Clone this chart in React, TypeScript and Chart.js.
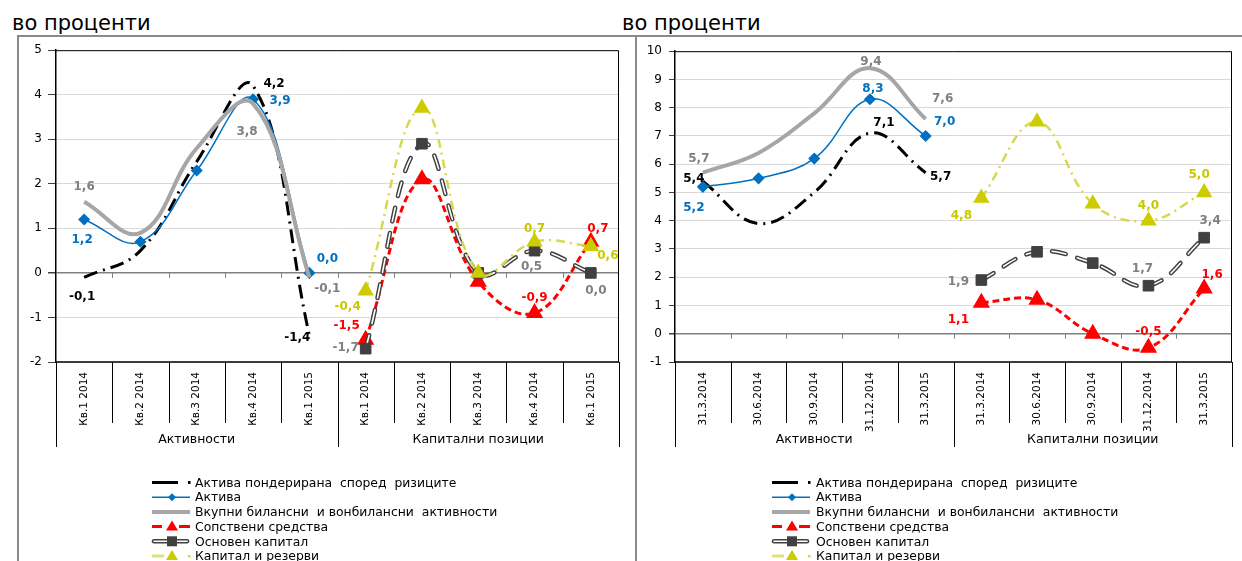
import React, { useEffect, useRef } from "react";
import { Chart, registerables } from "chart.js";

Chart.register(...registerables);

const FONT = '"DejaVu Sans", Verdana, sans-serif';

// ---------- text ----------
const titleText = "во проценти";
const seriesNames = [
  "Актива пондерирана  според  ризиците",
  "Актива",
  "Вкупни билансни  и вонбилансни  активности",
  "Сопствени средства",
  "Основен капитал",
  "Капитал и резерви",
];
const groupLabels = ["Активности", "Капитални позиции"];
const quarterLabels = ["Кв.1 2014", "Кв.2 2014", "Кв.3 2014", "Кв.4 2014", "Кв.1 2015"];
const dateLabels = ["31.3.2014", "30.6.2014", "30.9.2014", "31.12.2014", "31.3.2015"];

// ---------- tick labels ----------
const leftYTicks = [-2, -1, 0, 1, 2, 3, 4, 5];
const rightYTicks = [-1, 0, 1, 2, 3, 4, 5, 6, 7, 8, 9, 10];

// ---------- left panel values (quarterly change, %) ----------
const qRwa = [-0.1, 0.5, 2.5, 4.2, -1.4];
const qAssets = [1.2, 0.7, 2.3, 3.9, 0.0];
const qTotal = [1.6, 0.9, 2.8, 3.8, -0.1];
const qOwnFunds = [-1.5, 2.1, -0.2, -0.9, 0.7];
const qTier1 = [-1.7, 2.9, 0.0, 0.5, 0.0];
const qCapRes = [-0.4, 3.7, 0.0, 0.7, 0.6];

// ---------- right panel values (%) ----------
const dRwa = [5.4, 3.9, 5.0, 7.1, 5.7];
const dAssets = [5.2, 5.5, 6.2, 8.3, 7.0];
const dTotal = [5.7, 6.4, 7.8, 9.4, 7.6];
const dOwnFunds = [1.1, 1.2, 0.0, -0.5, 1.6];
const dTier1 = [1.9, 2.9, 2.5, 1.7, 3.4];
const dCapRes = [4.8, 7.5, 4.6, 4.0, 5.0];

// ---------- label placement (style: pixel offsets from the point) ----------
type Off = [number, number] | null;
const leftLabelOffsets: Off[][] = [
  [[-2, 20], null, null, [21, -2], [-12, 3]],
  [[-2, 20], null, null, [27, 2], [18, -14]],
  [[0, -15], null, null, [-6, 28], [18, 12]],
  [[-19, -14], null, null, [0, -15], [7, -13]],
  [[-20, -1], null, null, [-3, 16], [5, 18]],
  [[-18, 16], null, null, [0, -13], [17, 10]],
];
const rightLabelOffsets: Off[][] = [
  [[-9, -2], null, null, [14, -10], [15, 4]],
  [[-9, 21], null, null, [3, -10], [19, -14]],
  [[-4, -14], null, null, [1, -6], [17, -20]],
  [[-23, 17], null, null, [0, -16], [8, -14]],
  [[-23, 2], null, null, [-6, -17], [6, -17]],
  [[-20, 18], null, null, [0, -15], [-5, -18]],
];

const labelColors = ["#000000", "#0070C0", "#808080", "#FF0000", "#808080", "#C8C800"];

const fmt = (v: number) => v.toFixed(1).replace(".", ",");

function place(vals: number[], start: number): (number | null)[] {
  const out: (number | null)[] = new Array(10).fill(null);
  vals.forEach((v, i) => (out[start + i] = v));
  return out;
}

function buildDatasets(series: number[][], offsets: Off[][]) {
  const ds: any[] = [];
  const common = {
    tension: 0.4,
    spanGaps: false,
    pointHoverRadius: 0,
    borderCapStyle: "butt",
  };
  // 0 RWA
  ds.push({
    ...common,
    data: place(series[0], 0),
    borderColor: "#000000",
    borderWidth: 3,
    borderDash: [14, 6, 2, 6],
    pointRadius: 0,
    order: 60,
    labelOffsets: offsets[0],
    labelStart: 0,
    labelColor: labelColors[0],
  });
  // 1 Assets
  ds.push({
    ...common,
    data: place(series[1], 0),
    borderColor: "#0070C0",
    borderWidth: 1.5,
    pointStyle: "rectRot",
    pointRadius: 5,
    pointBackgroundColor: "#0070C0",
    pointBorderColor: "#0070C0",
    order: 50,
    labelOffsets: offsets[1],
    labelStart: 0,
    labelColor: labelColors[1],
  });
  // 2 Total
  ds.push({
    ...common,
    data: place(series[2], 0),
    borderColor: "#A6A6A6",
    borderWidth: 4,
    pointRadius: 0,
    order: 40,
    labelOffsets: offsets[2],
    labelStart: 0,
    labelColor: labelColors[2],
  });
  // 3 Own funds
  ds.push({
    ...common,
    data: place(series[3], 5),
    borderColor: "#FF0000",
    borderWidth: 3,
    borderDash: [7, 4],
    pointStyle: "triangle",
    pointRadius: 7,
    pointBackgroundColor: "#FF0000",
    pointBorderColor: "#FF0000",
    order: 30,
    labelOffsets: offsets[3],
    labelStart: 5,
    labelColor: labelColors[3],
  });
  // 4 Tier 1 : double line (dark outline + white core) + markers
  const t1 = place(series[4], 5);
  ds.push({
    ...common,
    data: t1,
    borderColor: "#404040",
    borderWidth: 4.5,
    borderDash: [14, 12],
    borderCapStyle: "round",
    pointRadius: 0,
    order: 22,
  });
  ds.push({
    ...common,
    data: t1,
    borderColor: "#FFFFFF",
    borderWidth: 1.6,
    borderDash: [14, 12],
    borderCapStyle: "round",
    pointRadius: 0,
    order: 21,
  });
  ds.push({
    ...common,
    data: t1,
    showLine: false,
    pointStyle: "rect",
    pointRadius: 7.5,
    pointBackgroundColor: "#404040",
    pointBorderColor: "#404040",
    order: 20,
    labelOffsets: offsets[4],
    labelStart: 5,
    labelColor: labelColors[4],
  });
  // 5 Capital and reserves
  ds.push({
    ...common,
    data: place(series[5], 5),
    borderColor: "#D8D850",
    borderWidth: 2.5,
    borderDash: [9, 5, 2, 5],
    pointStyle: "triangle",
    pointRadius: 7,
    pointBackgroundColor: "#CCCC00",
    pointBorderColor: "#CCCC00",
    order: 10,
    labelOffsets: offsets[5],
    labelStart: 5,
    labelColor: labelColors[5],
  });
  return ds;
}

const decorPlugin = {
  id: "decor",
  afterDatasetsDraw(chart: any) {
    const ctx = chart.ctx;
    ctx.save();
    ctx.font = `bold 12px ${FONT}`;
    ctx.textAlign = "center";
    ctx.textBaseline = "middle";
    chart.data.datasets.forEach((ds: any, i: number) => {
      if (!ds.labelOffsets) return;
      const meta = chart.getDatasetMeta(i);
      ds.labelOffsets.forEach((off: Off, j: number) => {
        if (!off) return;
        const idx = ds.labelStart + j;
        const el = meta.data[idx];
        const v = ds.data[idx];
        if (!el || v == null) return;
        ctx.fillStyle = ds.labelColor;
        ctx.fillText(fmt(v), el.x + off[0], el.y + off[1]);
      });
    });
    ctx.restore();
  },
  afterDraw(chart: any, _args: any, opts: any) {
    const ctx = chart.ctx;
    const a = chart.chartArea;
    const y = chart.scales.y;
    const n = opts.categories.length;
    const w = (a.right - a.left) / n;
    ctx.save();
    // plot frame
    ctx.strokeStyle = "#000";
    ctx.lineWidth = 1;
    ctx.beginPath();
    ctx.moveTo(a.left, a.top + 0.5);
    ctx.lineTo(a.right - 0.5, a.top + 0.5);
    ctx.lineTo(a.right - 0.5, a.bottom);
    ctx.stroke();
    ctx.lineWidth = 1.5;
    ctx.beginPath();
    ctx.moveTo(a.left, a.bottom);
    ctx.lineTo(a.right, a.bottom);
    ctx.stroke();
    // ticks on zero line
    const y0 = y.getPixelForValue(0);
    ctx.strokeStyle = "#808080";
    ctx.lineWidth = 1;
    for (let k = 1; k < n; k++) {
      const x = Math.round(a.left + k * w) + 0.5;
      ctx.beginPath();
      ctx.moveTo(x, y0);
      ctx.lineTo(x, y0 + 5);
      ctx.stroke();
    }
    // category separators
    ctx.strokeStyle = "#000";
    ctx.lineWidth = 1;
    for (let k = 0; k <= n; k++) {
      const x = Math.round(a.left + k * w) + 0.5;
      const isGroup = k % 5 === 0;
      ctx.beginPath();
      ctx.moveTo(x, a.bottom);
      ctx.lineTo(x, a.bottom + (isGroup ? opts.groupSepLen : opts.catSepLen));
      ctx.stroke();
    }
    // category labels
    ctx.fillStyle = "#000";
    ctx.font = `${opts.catFont}px ${FONT}`;
    ctx.textAlign = "right";
    ctx.textBaseline = "middle";
    for (let k = 0; k < n; k++) {
      const x = a.left + (k + 0.5) * w;
      ctx.save();
      ctx.translate(x, a.bottom + 10);
      ctx.rotate(-Math.PI / 2);
      ctx.fillText(opts.categories[k], 0, 0);
      ctx.restore();
    }
    // group labels
    ctx.font = `12.5px ${FONT}`;
    ctx.textAlign = "center";
    opts.groups.forEach((g: string, gi: number) => {
      const x = a.left + (gi * 5 + 2.5) * w;
      ctx.fillText(g, x, a.bottom + opts.groupY);
    });
    // legend
    const sx = opts.legendX;
    const tx = opts.legendTextX;
    seriesNames.forEach((name, i) => {
      const ly = opts.legendY + i * 14.7;
      const cx = sx + 20;
      ctx.save();
      if (i === 0) {
        ctx.strokeStyle = "#000";
        ctx.lineWidth = 3;
        ctx.beginPath();
        ctx.moveTo(sx, ly);
        ctx.lineTo(sx + 26, ly);
        ctx.stroke();
        ctx.fillStyle = "#000";
        ctx.fillRect(sx + 36, ly - 1.5, 2.5, 3);
      } else if (i === 1) {
        ctx.strokeStyle = "#0070C0";
        ctx.lineWidth = 1.5;
        ctx.beginPath();
        ctx.moveTo(sx, ly);
        ctx.lineTo(sx + 38, ly);
        ctx.stroke();
        ctx.fillStyle = "#0070C0";
        ctx.beginPath();
        ctx.moveTo(cx - 4, ly);
        ctx.lineTo(cx, ly - 4);
        ctx.lineTo(cx + 4, ly);
        ctx.lineTo(cx, ly + 4);
        ctx.closePath();
        ctx.fill();
      } else if (i === 2) {
        ctx.strokeStyle = "#A6A6A6";
        ctx.lineWidth = 4;
        ctx.beginPath();
        ctx.moveTo(sx, ly);
        ctx.lineTo(sx + 38, ly);
        ctx.stroke();
      } else if (i === 3) {
        ctx.strokeStyle = "#FF0000";
        ctx.lineWidth = 3;
        ctx.beginPath();
        ctx.moveTo(sx, ly);
        ctx.lineTo(sx + 10, ly);
        ctx.moveTo(sx + 27, ly);
        ctx.lineTo(sx + 38, ly);
        ctx.stroke();
        ctx.fillStyle = "#FF0000";
        ctx.beginPath();
        ctx.moveTo(cx, ly - 6);
        ctx.lineTo(cx + 6, ly + 4);
        ctx.lineTo(cx - 6, ly + 4);
        ctx.closePath();
        ctx.fill();
      } else if (i === 4) {
        ctx.lineCap = "round";
        ctx.strokeStyle = "#404040";
        ctx.lineWidth = 4.5;
        ctx.beginPath();
        ctx.moveTo(sx + 2, ly);
        ctx.lineTo(sx + 35, ly);
        ctx.stroke();
        ctx.strokeStyle = "#fff";
        ctx.lineWidth = 1.6;
        ctx.beginPath();
        ctx.moveTo(sx + 2, ly);
        ctx.lineTo(sx + 35, ly);
        ctx.stroke();
        ctx.fillStyle = "#404040";
        ctx.fillRect(cx - 5, ly - 5, 10, 10);
      } else {
        ctx.strokeStyle = "#E2E27A";
        ctx.lineWidth = 3;
        ctx.beginPath();
        ctx.moveTo(sx, ly);
        ctx.lineTo(sx + 12, ly);
        ctx.stroke();
        ctx.fillStyle = "#CCCC00";
        ctx.beginPath();
        ctx.moveTo(cx, ly - 6);
        ctx.lineTo(cx + 6, ly + 4);
        ctx.lineTo(cx - 6, ly + 4);
        ctx.closePath();
        ctx.fill();
        ctx.fillStyle = "#D8D850";
        ctx.fillRect(sx + 36, ly - 1, 2.5, 2.5);
      }
      ctx.restore();
      ctx.fillStyle = "#000";
      ctx.font = `12.4px ${FONT}`;
      ctx.textAlign = "left";
      ctx.textBaseline = "middle";
      ctx.fillText(name, tx, ly + 1);
    });
    ctx.restore();
  },
};

interface PanelSpec {
  categories: string[];
  series: number[][];
  offsets: Off[][];
  yTicks: number[];
  padTop: number;
  padRight: number;
  axisWidth: number;
  tickLen: number;
  tickPad: number;
  legendX: number;
  legendTextX: number;
}

function makeConfig(p: PanelSpec): any {
  const min = p.yTicks[0];
  const max = p.yTicks[p.yTicks.length - 1];
  return {
    type: "line",
    data: { labels: p.categories, datasets: buildDatasets(p.series, p.offsets) },
    plugins: [decorPlugin],
    options: {
      animation: false,
      responsive: false,
      devicePixelRatio: 1,
      events: [],
      layout: { padding: { top: p.padTop, right: p.padRight, bottom: 199, left: 0 } },
      plugins: {
        legend: { display: false },
        tooltip: { enabled: false },
        decor: {
          categories: p.categories,
          groups: groupLabels,
          catSepLen: 61,
          groupSepLen: 85,
          groupY: 78,
          catFont: 10.5,
          legendX: p.legendX,
          legendTextX: p.legendTextX,
          legendY: 445.5,
        },
      },
      scales: {
        x: { type: "category", display: false, offset: true },
        y: {
          min,
          max,
          afterFit: (s: any) => {
            s.width = p.axisWidth;
          },
          afterBuildTicks: (s: any) => {
            s.ticks = p.yTicks.map((v) => ({ value: v }));
          },
          ticks: {
            color: "#000",
            font: { family: FONT, size: 12 },
            padding: p.tickPad,
            callback: (v: any) => String(v),
          },
          grid: {
            color: (c: any) => (c.tick && c.tick.value === 0 ? "#808080" : "#D9D9D9"),
            lineWidth: (c: any) => (c.tick && c.tick.value === 0 ? 1.5 : 1),
            tickLength: p.tickLen,
            tickColor: "#404040",
          },
          border: { display: true, color: "#000", width: 1.5 },
        },
      },
    },
  };
}

function Panel(props: { left: number; top: number; width: number; height: number; spec: PanelSpec }) {
  const ref = useRef<HTMLCanvasElement>(null);
  useEffect(() => {
    const chart = new Chart(ref.current as HTMLCanvasElement, makeConfig(props.spec));
    return () => chart.destroy();
  }, []);
  return (
    <canvas
      ref={ref}
      width={props.width}
      height={props.height}
      style={{ position: "absolute", left: props.left, top: props.top, width: props.width, height: props.height }}
    />
  );
}

const leftSpec: PanelSpec = {
  categories: [...quarterLabels, ...quarterLabels],
  series: [qRwa, qAssets, qTotal, qOwnFunds, qTier1, qCapRes],
  offsets: leftLabelOffsets,
  yTicks: leftYTicks,
  padTop: 8,
  padRight: 15,
  axisWidth: 37,
  tickLen: 8,
  tickPad: 6,
  legendX: 133,
  legendTextX: 176,
};

const rightSpec: PanelSpec = {
  categories: [...dateLabels, ...dateLabels],
  series: [dRwa, dAssets, dTotal, dOwnFunds, dTier1, dCapRes],
  offsets: rightLabelOffsets,
  yTicks: rightYTicks,
  padTop: 7,
  padRight: 4,
  axisWidth: 38,
  tickLen: 6,
  tickPad: 7,
  legendX: 135,
  legendTextX: 179,
};

export default function App() {
  useEffect(() => {
    document.body.style.margin = "0";
  }, []);
  const titleStyle: React.CSSProperties = {
    position: "absolute",
    top: 13,
    fontSize: 21,
    lineHeight: "21px",
    fontFamily: FONT,
    color: "#000",
    whiteSpace: "nowrap",
  };
  return (
    <div style={{ position: "relative", width: 1242, height: 561, overflow: "hidden", background: "#fff" }}>
      <div style={{ ...titleStyle, left: 12 }}>{titleText}</div>
      <div style={{ ...titleStyle, left: 622 }}>{titleText}</div>
      <div style={{ position: "absolute", left: 17, top: 35, width: 1230, height: 2, background: "#8a8a8a" }} />
      <div style={{ position: "absolute", left: 17, top: 35, width: 2, height: 530, background: "#8a8a8a" }} />
      <div style={{ position: "absolute", left: 635, top: 35, width: 2, height: 530, background: "#8a8a8a" }} />
      <Panel left={19} top={37} width={615} height={524} spec={leftSpec} />
      <Panel left={637} top={37} width={605} height={524} spec={rightSpec} />
    </div>
  );
}
